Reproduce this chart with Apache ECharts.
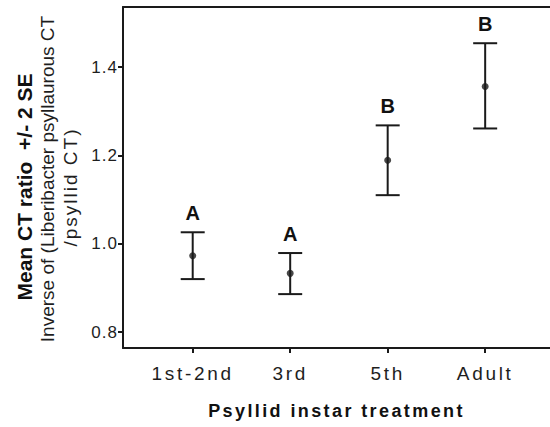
<!DOCTYPE html>
<html>
<head>
<meta charset="utf-8">
<script src="https://cdn.jsdelivr.net/npm/echarts@6/dist/echarts.min.js"></script>
<style>
  html, body { margin: 0; padding: 0; background: #fff; }
  #chart { width: 550px; height: 427px; }
  #chart text { white-space: pre; }
</style>
</head>
<body>
<div id="chart"></div>
<script>
// instar treatments and the CT ratio (mean, +/- 2 SE)
var categories = ['1st-2nd', '3rd', '5th', 'Adult']
var means = [0.973, 0.933, 1.189, 1.356]
var upper = [1.026, 0.979, 1.268, 1.454]
var lower = [0.920, 0.886, 1.110, 1.261]
var groups = ['A', 'A', 'B', 'B']
var yTicks = [0.8, 1.0, 1.2, 1.4]
var xTicks = [1, 2, 3, 4]

var FONT = 'Liberation Sans, Arial, sans-serif'
var INK = '#1a1a1a'

var positions = categories.map(function (c, i) { return i + 1 })
var meanData = positions.map(function (x, i) { return [x, means[i]] })
var barData = positions.map(function (x, i) { return [x, upper[i], lower[i]] })

var chart = echarts.init(document.getElementById('chart'), null, { renderer: 'svg' })

// the original figure has wide letter spacing on horizontal text
function applySpacing() {
  var nodes = document.querySelectorAll('#chart text')
  for (var i = 0; i < nodes.length; i++) {
    var t = nodes[i].textContent
    var sp = 0
    if (/^\d\.\d$/.test(t)) sp = 1
    else if (categories.indexOf(t) >= 0) sp = 2.7
    else if (t === 'Psyllid instar treatment') sp = 2.4
    else if (t === '/psyllid CT)') sp = 2
    nodes[i].style.letterSpacing = sp + 'px'
  }
}
chart.on('finished', applySpacing)

var axisLine = { show: true, lineStyle: { color: INK, width: 2 } }

chart.setOption({
  animation: false,
  grid: {
    left: 123,
    right: 0,
    top: 7,
    bottom: 79,
    containLabel: false,
    outerBoundsMode: 'none'
  },
  xAxis: [{
    type: 'value',
    min: 0.285,
    max: 4.665,
    axisLine: axisLine,
    axisTick: { show: true, length: 5, customValues: xTicks, lineStyle: { color: INK, width: 2 } },
    axisLabel: {
      customValues: xTicks,
      margin: 16,
      fontSize: 19,
      fontFamily: FONT,
      color: '#1e1e1e',
      formatter: function (v) { return categories[Math.round(v) - 1] }
    },
    splitLine: { show: false },
    name: 'Psyllid instar treatment',
    nameLocation: 'middle',
    nameGap: 54,
    nameTextStyle: { fontSize: 18, fontWeight: 'bold', fontFamily: FONT, color: '#111' }
  }, {
    type: 'value',
    position: 'top',
    min: 0.285,
    max: 4.665,
    axisLine: axisLine,
    axisTick: { show: false },
    axisLabel: { show: false },
    splitLine: { show: false }
  }],
  yAxis: {
    type: 'value',
    min: 0.764,
    max: 1.536,
    axisLine: axisLine,
    axisTick: { show: true, length: 5, customValues: yTicks, lineStyle: { color: INK, width: 2 } },
    axisLabel: {
      customValues: yTicks,
      margin: 5,
      fontSize: 17,
      fontFamily: FONT,
      color: '#1e1e1e',
      formatter: function (v) { return v.toFixed(1) }
    },
    splitLine: { show: false }
  },
  graphic: [{
    type: 'text',
    x: 24, y: 187,
    rotation: Math.PI / 2,
    style: { text: 'Mean CT ratio  +/- 2 SE', fontSize: 21, fontWeight: 'bold', fontFamily: FONT, fill: '#111', align: 'center', verticalAlign: 'middle' }
  }, {
    type: 'text',
    x: 47, y: 179,
    rotation: Math.PI / 2,
    style: { text: 'Inverse of (Liberibacter psyllaurous CT', fontSize: 19, fontFamily: FONT, fill: '#1e1e1e', align: 'center', verticalAlign: 'middle' }
  }, {
    type: 'text',
    x: 70, y: 187,
    rotation: Math.PI / 2,
    style: { text: '/psyllid CT)', fontSize: 19, fontFamily: FONT, fill: '#1e1e1e', align: 'center', verticalAlign: 'middle' }
  }],
  series: [{
    type: 'custom',
    data: barData,
    renderItem: function (params, api) {
      var x = api.value(0)
      var hi = api.coord([x, api.value(1)])
      var lo = api.coord([x, api.value(2)])
      var st = { stroke: INK, lineWidth: 2 }
      return {
        type: 'group',
        children: [
          { type: 'line', shape: { x1: hi[0], y1: hi[1], x2: lo[0], y2: lo[1] }, style: st },
          { type: 'line', shape: { x1: hi[0] - 12, y1: hi[1], x2: hi[0] + 12, y2: hi[1] }, style: st },
          { type: 'line', shape: { x1: lo[0] - 12, y1: lo[1], x2: lo[0] + 12, y2: lo[1] }, style: st },
          {
            type: 'text',
            x: hi[0], y: hi[1] - 19,
            style: {
              text: groups[params.dataIndex],
              fontSize: 20, fontWeight: 'bold', fontFamily: FONT,
              fill: '#111', align: 'center', verticalAlign: 'middle'
            }
          }
        ]
      }
    },
    z: 2
  }, {
    type: 'scatter',
    data: meanData,
    symbol: 'circle',
    symbolSize: 7,
    itemStyle: { color: INK },
    z: 3
  }]
})
applySpacing()
setTimeout(applySpacing, 50)
</script>
</body>
</html>
